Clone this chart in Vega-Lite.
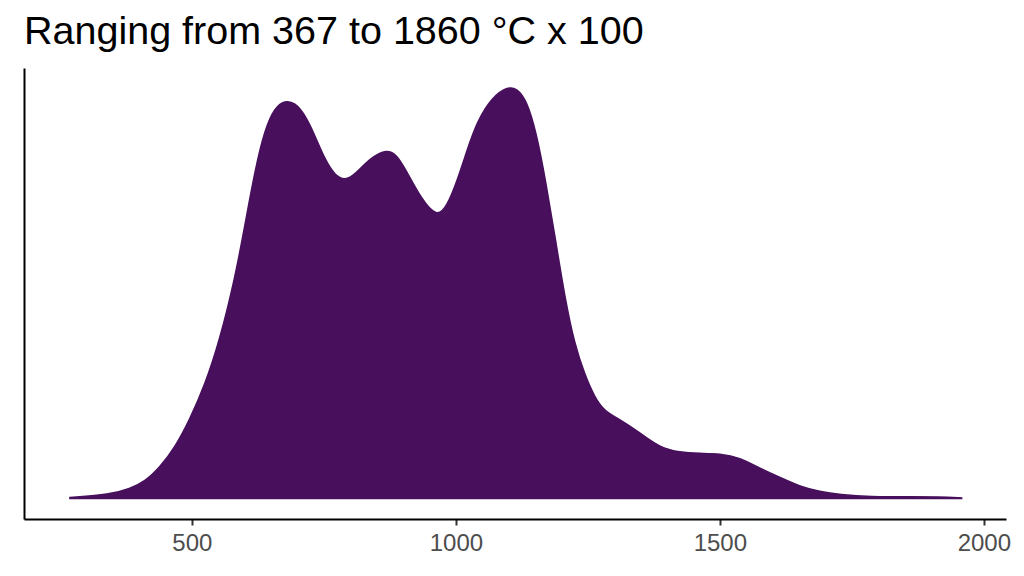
{
  "$schema": "https://vega.github.io/schema/vega-lite/v6.json",
  "autosize": "none",
  "width": 982,
  "height": 451,
  "padding": {"left": 24, "top": 68, "right": 18, "bottom": 57},
  "background": "white",
  "config": {"view": {"stroke": null}, "font": "Liberation Sans"},
  "title": {
    "text": "Ranging from 367 to 1860 °C x 100",
    "anchor": "start",
    "frame": "group",
    "fontSize": 39.5,
    "fontWeight": "normal",
    "color": "#000000",
    "font": "Liberation Sans",
    "offset": 16
  },
  "data": {
    "values": [
      {"t": 269, "d": 1},
      {"t": 345, "d": 4},
      {"t": 383, "d": 10},
      {"t": 411, "d": 17},
      {"t": 439, "d": 31},
      {"t": 468, "d": 51},
      {"t": 496, "d": 79},
      {"t": 525, "d": 114},
      {"t": 553, "d": 159},
      {"t": 581, "d": 219},
      {"t": 600, "d": 272},
      {"t": 619, "d": 327},
      {"t": 638, "d": 369},
      {"t": 657, "d": 391},
      {"t": 676, "d": 398},
      {"t": 695, "d": 396},
      {"t": 714, "d": 384},
      {"t": 733, "d": 363},
      {"t": 752, "d": 339},
      {"t": 771, "d": 323},
      {"t": 790, "d": 318},
      {"t": 809, "d": 324},
      {"t": 837, "d": 340},
      {"t": 866, "d": 349},
      {"t": 887, "d": 345},
      {"t": 906, "d": 328},
      {"t": 934, "d": 300},
      {"t": 964, "d": 281},
      {"t": 983, "d": 292},
      {"t": 1002, "d": 317},
      {"t": 1021, "d": 348},
      {"t": 1040, "d": 377},
      {"t": 1068, "d": 401},
      {"t": 1097, "d": 412},
      {"t": 1116, "d": 410},
      {"t": 1134, "d": 398},
      {"t": 1152, "d": 367},
      {"t": 1170, "d": 318},
      {"t": 1189, "d": 258},
      {"t": 1207, "d": 199},
      {"t": 1225, "d": 154},
      {"t": 1244, "d": 124},
      {"t": 1263, "d": 101},
      {"t": 1282, "d": 87},
      {"t": 1311, "d": 79},
      {"t": 1348, "d": 66},
      {"t": 1386, "d": 51},
      {"t": 1424, "d": 46},
      {"t": 1462, "d": 45},
      {"t": 1500, "d": 45},
      {"t": 1538, "d": 41},
      {"t": 1576, "d": 30},
      {"t": 1614, "d": 21},
      {"t": 1652, "d": 12},
      {"t": 1689, "d": 7},
      {"t": 1727, "d": 4},
      {"t": 1784, "d": 1.5},
      {"t": 1860, "d": 2},
      {"t": 1917, "d": 1.5},
      {"t": 1958, "d": 0.5}
    ]
  },
  "mark": {
    "type": "area",
    "interpolate": "basis",
    "color": "#470F5C",
    "stroke": "#470F5C",
    "strokeWidth": 1.5
  },
  "encoding": {
    "x": {
      "field": "t",
      "type": "quantitative",
      "scale": {"domain": [182, 2042], "nice": false, "zero": false},
      "axis": {
        "title": null,
        "values": [500, 1000, 1500, 2000],
        "format": "d",
        "grid": false,
        "domainColor": "#000000",
        "domainWidth": 2,
        "tickColor": "#333333",
        "tickWidth": 2,
        "tickSize": 6,
        "labelColor": "#4D4D4D",
        "labelFontSize": 24,
        "labelFont": "Liberation Sans",
        "labelPadding": 6
      }
    },
    "y": {
      "field": "d",
      "type": "quantitative",
      "scale": {"domain": [-20.5, 430.5], "nice": false, "zero": false},
      "axis": {
        "title": null,
        "labels": false,
        "ticks": false,
        "grid": false,
        "domainColor": "#000000",
        "domainWidth": 2
      }
    }
  }
}
